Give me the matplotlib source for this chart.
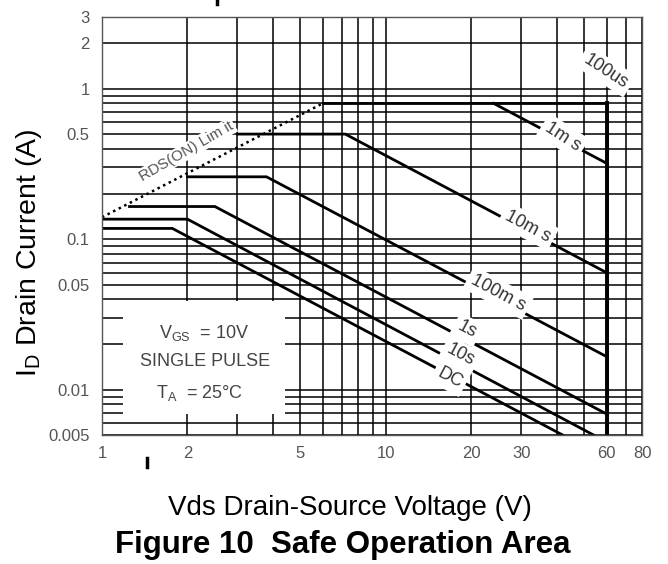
import matplotlib
matplotlib.use('Agg')
import matplotlib.pyplot as plt
from matplotlib.patches import Rectangle
from matplotlib.lines import Line2D

plt.rcParams['font.family'] = ['Liberation Sans', 'DejaVu Sans']
plt.rcParams['mathtext.fontset'] = 'custom'
plt.rcParams['mathtext.rm'] = 'Liberation Sans'

# SOA boundary curves (V, A)
v_100us = [6, 60, 60]
i_100us = [0.8, 0.8, 0.005]
v_1ms = [24, 60]
i_1ms = [0.8, 0.32]
v_10ms = [3, 7.2, 60]
i_10ms = [0.5, 0.5, 0.06]
v_100ms = [2, 3.8, 60]
i_100ms = [0.26, 0.26, 0.0166]
v_1s = [1.25, 2.5, 60]
i_1s = [0.165, 0.165, 0.0069]
v_10s = [1, 2, 54]
i_10s = [0.136, 0.136, 0.005]
v_dc = [1, 1.77, 42]
i_dc = [0.118, 0.118, 0.005]

# RDS(on) limit line
v_rds = [1, 6]
i_rds = [0.14, 0.8]

x_ticks = [1, 2, 5, 10, 20, 30, 60, 80]
x_minor = [3, 4, 6, 7, 8, 9, 40, 50, 70]
y_ticks = [0.005, 0.01, 0.05, 0.1, 0.5, 1, 2, 3]
y_minor = [0.006, 0.007, 0.008, 0.009, 0.02, 0.03, 0.04, 0.06, 0.07, 0.08, 0.09,
           0.2, 0.3, 0.4, 0.6, 0.7, 0.8, 0.9]

fig = plt.figure(figsize=(6.68, 5.64), dpi=100)
ax = fig.add_axes([102 / 668, 129 / 564, 540 / 668, 418 / 564])
ax.set_xscale('log')
ax.set_yscale('log')
ax.set_xlim(1, 80)
ax.set_ylim(0.005, 3)

ax.set_xticks(x_ticks)
ax.set_xticklabels([str(t) for t in x_ticks])
ax.set_xticks(x_minor, minor=True)
ax.set_yticks(y_ticks)
ax.set_yticklabels([f'{t:g}' for t in y_ticks])
ax.set_yticks(y_minor, minor=True)
ax.tick_params(which='both', length=0, labelsize=12, labelcolor='#555555')
ax.tick_params(axis='x', pad=8)
ax.tick_params(axis='y', pad=9)
ax.set_axisbelow(True)
ax.grid(True, which='both', color='black', linewidth=1.1)
for s in ax.spines.values():
    s.set_color('#555555')
    s.set_linewidth(1.0)

# white box behind the conditions text
ax.add_patch(Rectangle((1.19, 0.0069), 4.41 - 1.19, 0.039 - 0.0069,
                       facecolor='white', edgecolor='none', zorder=1))

lw = 2.0
ax.plot(v_100us, i_100us, color='black', lw=lw, zorder=2)
ax.plot([60, 60], [0.8, 0.005], color='black', lw=2.8, zorder=2)
ax.plot(v_1ms, i_1ms, color='black', lw=lw, zorder=2)
ax.plot(v_10ms, i_10ms, color='black', lw=lw, zorder=2)
ax.plot(v_100ms, i_100ms, color='black', lw=lw, zorder=2)
ax.plot(v_1s, i_1s, color='black', lw=lw, zorder=2)
ax.plot(v_10s, i_10s, color='black', lw=lw, zorder=2)
ax.plot(v_dc, i_dc, color='black', lw=lw, zorder=2)
ax.plot(v_rds, i_rds, color='black', lw=1.8, linestyle=(0, (1, 1.5)), zorder=2)

box = dict(facecolor='white', edgecolor='none', pad=3)
lab = dict(fontsize=13, color='#333333', ha='center', va='center', bbox=box, zorder=3)
ax.text(59.7, 1.31, '100us', rotation=-33, **lab)
ax.text(42.1, 0.48, '1m s', rotation=-33, **lab)
ax.text(31.7, 0.122, '10m s', rotation=-28, **lab)
ax.text(24.9, 0.044, '100m s', rotation=-28, **lab)
ax.text(19.3, 0.025, '1s', rotation=-28, **lab)
ax.text(18.3, 0.017, '10s', rotation=-28, **lab)
ax.text(16.8, 0.012, 'DC', rotation=-28, **lab)
ax.text(1.99, 0.385, 'RDS(ON) Lim it', rotation=30, fontsize=11, color='#555555',
        ha='center', va='center', bbox=dict(facecolor='white', edgecolor='none', pad=1), zorder=3)

cond = dict(fontsize=13, color='#444444', ha='center', va='center', zorder=3)
ax.text(2.3, 0.024, r'V$_{\mathregular{GS}}$  = 10V', **cond)
ax.text(2.3, 0.0155, 'SINGLE PULSE', **cond)
ax.text(2.2, 0.0095, r'T$_{\mathregular{A}}$  = 25°C', **cond)

fig.text(29 / 668, 1 - 253 / 564, r'I$_{\mathregular{D}}$ Drain Current (A)', rotation=90,
         fontsize=20.5, ha='center', va='center')
fig.text(350 / 668, 1 - 508 / 564, 'Vds Drain-Source Voltage (V)', fontsize=20,
         ha='center', va='center')
fig.text(343 / 668, 1 - 545 / 564, 'Figure 10  Safe Operation Area', fontsize=22.5,
         fontweight='bold', ha='center', va='center')

# small stray marks in the scanned figure
fig.add_artist(Line2D([217 / 668, 217 / 668], [1, 1 - 4 / 564], color='black', lw=2.5))
fig.add_artist(Line2D([147 / 668, 147 / 668], [1 - 458 / 564, 1 - 467 / 564], color='black', lw=2.5))

fig.savefig('out.png', dpi=100)
